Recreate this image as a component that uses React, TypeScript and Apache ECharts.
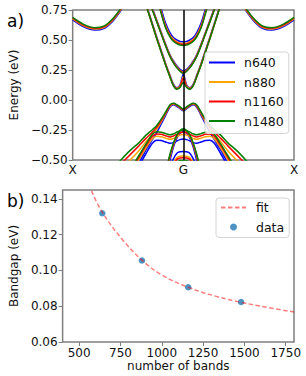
import React, { useEffect, useRef } from 'react';
import * as echarts from 'echarts';

// ---------- panel a) band structure ----------
// distance from G along the path (k = 0.5 -/+ d), mirrored on both sides
const dGrid = [0, 0.015, 0.03, 0.045, 0.06, 0.08, 0.1, 0.12, 0.14, 0.17, 0.2, 0.24, 0.28, 0.32, 0.36, 0.4, 0.45, 0.5];
const kTickValues = [0, 0.5, 1];
const kTickLabels = ['X', 'G', 'X'];
const seriesNames = ['n640', 'n880', 'n1160', 'n1480'];
const seriesColors = ['#0000ff', '#ffa500', '#ff0000', '#008000'];

const N = null;
// upper band near X
const hiX_n640 = [N, N, N, N, N, N, N, N, N, N, N, N, 0.752, 0.655, 0.595, 0.583, 0.61, 0.668];
const hiX_n880 = [N, N, N, N, N, N, N, N, N, N, N, N, 0.758, 0.663, 0.603, 0.591, 0.618, 0.676];
const hiX_n1160 = [N, N, N, N, N, N, N, N, N, N, N, N, 0.764, 0.669, 0.609, 0.597, 0.624, 0.682];
const hiX_n1480 = [N, N, N, N, N, N, N, N, N, N, N, N, 0.77, 0.675, 0.615, 0.603, 0.63, 0.688];
// lowest conduction band (W shape)
const cbW_n640 = [0.215, 0.125, 0.103, 0.133, 0.203, 0.303, 0.413, 0.523, 0.638, 0.81, N, N, N, N, N, N, N, N];
const cbW_n880 = [0.195, 0.115, 0.097, 0.127, 0.197, 0.297, 0.407, 0.517, 0.632, 0.805, N, N, N, N, N, N, N, N];
const cbW_n1160 = [0.18, 0.11, 0.093, 0.123, 0.193, 0.293, 0.403, 0.513, 0.628, 0.8, N, N, N, N, N, N, N, N];
const cbW_n1480 = [0.145, 0.105, 0.09, 0.12, 0.19, 0.29, 0.4, 0.51, 0.625, 0.8, N, N, N, N, N, N, N, N];
// second conduction band (V shape)
const cbV_n640 = [0.24, 0.256, 0.285, 0.325, 0.375, 0.465, 0.565, 0.665, 0.765, 0.91, N, N, N, N, N, N, N, N];
const cbV_n880 = [0.23, 0.248, 0.278, 0.318, 0.368, 0.458, 0.558, 0.658, 0.758, 0.9, N, N, N, N, N, N, N, N];
const cbV_n1160 = [0.225, 0.244, 0.274, 0.314, 0.364, 0.454, 0.554, 0.654, 0.754, 0.9, N, N, N, N, N, N, N, N];
const cbV_n1480 = [0.22, 0.24, 0.27, 0.31, 0.36, 0.45, 0.55, 0.65, 0.75, 0.9, N, N, N, N, N, N, N, N];
// third conduction band (U shape)
const cbU_n640 = [0.485, 0.488, 0.5, 0.52, 0.56, 0.64, 0.76, 0.9, N, N, N, N, N, N, N, N, N, N];
const cbU_n880 = [0.471, 0.474, 0.486, 0.506, 0.541, 0.618, 0.738, 0.878, N, N, N, N, N, N, N, N, N, N];
const cbU_n1160 = [0.463, 0.466, 0.478, 0.498, 0.533, 0.608, 0.728, 0.868, N, N, N, N, N, N, N, N, N, N];
const cbU_n1480 = [0.455, 0.458, 0.47, 0.49, 0.525, 0.6, 0.72, 0.86, N, N, N, N, N, N, N, N, N, N];
// top valence band (M shape)
const vbM_n640 = [-0.09, -0.072, -0.052, -0.04, -0.058, -0.128, -0.2, -0.27, -0.33, -0.42, -0.52, -0.62, N, N, N, N, N, N];
const vbM_n880 = [-0.083, -0.065, -0.045, -0.033, -0.05, -0.115, -0.182, -0.243, -0.29, -0.35, -0.42, -0.5, -0.58, N, N, N, N, N];
const vbM_n1160 = [-0.08, -0.062, -0.042, -0.03, -0.045, -0.108, -0.172, -0.228, -0.268, -0.322, -0.38, -0.455, -0.53, N, N, N, N, N];
const vbM_n1480 = [-0.075, -0.058, -0.038, -0.027, -0.04, -0.1, -0.16, -0.212, -0.248, -0.295, -0.355, -0.42, -0.495, -0.575, N, N, N, N];
// second valence band (wavy)
const vbS_n640 = [-0.325, -0.33, -0.342, -0.355, -0.36, -0.35, -0.338, -0.335, -0.36, -0.45, -0.55, -0.67, N, N, N, N, N, N];
const vbS_n880 = [-0.288, -0.293, -0.306, -0.32, -0.328, -0.318, -0.306, -0.303, -0.323, -0.405, -0.495, -0.62, N, N, N, N, N, N];
const vbS_n1160 = [-0.268, -0.273, -0.286, -0.3, -0.308, -0.298, -0.286, -0.283, -0.303, -0.385, -0.475, -0.6, N, N, N, N, N, N];
const vbS_n1480 = [-0.25, -0.255, -0.268, -0.282, -0.29, -0.28, -0.268, -0.265, -0.285, -0.37, -0.46, -0.58, N, N, N, N, N, N];
// cap-shaped band at G
const vbC_n640 = [-0.262, -0.277, -0.32, -0.395, -0.5, -0.65, N, N, N, N, N, N, N, N, N, N, N, N];
const vbC_n880 = [-0.25, -0.265, -0.306, -0.375, -0.47, -0.62, N, N, N, N, N, N, N, N, N, N, N, N];
const vbC_n1160 = [-0.245, -0.26, -0.3, -0.368, -0.46, -0.61, N, N, N, N, N, N, N, N, N, N, N, N];
const vbC_n1480 = [-0.24, -0.255, -0.295, -0.36, -0.45, -0.6, N, N, N, N, N, N, N, N, N, N, N, N];
// deep flat band at G
const vbD_n640 = [-0.43, -0.432, -0.445, -0.49, -0.56, -0.7, N, N, N, N, N, N, N, N, N, N, N, N];
const vbD_n880 = [-0.466, -0.468, -0.481, -0.525, -0.6, N, N, N, N, N, N, N, N, N, N, N, N, N];
const vbD_n1160 = [-0.482, -0.484, -0.497, -0.54, -0.6, N, N, N, N, N, N, N, N, N, N, N, N, N];
const vbD_n1480 = [-0.505, -0.507, -0.52, -0.56, N, N, N, N, N, N, N, N, N, N, N, N, N, N];

const bandsBySeries = [
  [hiX_n640, cbW_n640, cbV_n640, cbU_n640, vbM_n640, vbS_n640, vbC_n640, vbD_n640],
  [hiX_n880, cbW_n880, cbV_n880, cbU_n880, vbM_n880, vbS_n880, vbC_n880, vbD_n880],
  [hiX_n1160, cbW_n1160, cbV_n1160, cbU_n1160, vbM_n1160, vbS_n1160, vbC_n1160, vbD_n1160],
  [hiX_n1480, cbW_n1480, cbV_n1480, cbU_n1480, vbM_n1480, vbS_n1480, vbC_n1480, vbD_n1480],
];

// ---------- panel b) bandgap vs number of bands ----------
const bandsCount = [640, 880, 1160, 1480];
const bandgap = [0.132, 0.1056, 0.0906, 0.0824];
const fitX = [575, 640, 760, 880, 1000, 1160, 1330, 1480, 1640, 1800];
const fitY = [0.1445, 0.1325, 0.1175, 0.1058, 0.0975, 0.0906, 0.0855, 0.0822, 0.0793, 0.0768];
const xTicksB = [500, 750, 1000, 1250, 1500, 1750];
const yTicksB = [0.06, 0.08, 0.1, 0.12, 0.14];

const FONT = 'DejaVu Sans';
const SPINE = '#7f7f7f';
const TEXT = '#111';

function mirror(vals: (number | null)[]) {
  const out: [number, number | null][] = [];
  for (let j = dGrid.length - 1; j >= 0; j--) out.push([0.5 - dGrid[j], vals[j]]);
  for (let j = 1; j < dGrid.length; j++) out.push([0.5 + dGrid[j], vals[j]]);
  return out;
}

export default function App() {
  const ref = useRef<HTMLDivElement>(null);
  useEffect(() => {
    if (!ref.current) return;
    const chart = echarts.init(ref.current, undefined, { renderer: 'svg' });

    const bandSeries: any[] = [];
    bandsBySeries.forEach((bands, i) => {
      bands.forEach((b) => {
        bandSeries.push({
          type: 'line',
          name: seriesNames[i],
          xAxisIndex: 0,
          yAxisIndex: 0,
          data: mirror(b),
          symbol: 'none',
          showSymbol: false,
          smooth: 0.3,
          connectNulls: false,
          clip: true,
          silent: true,
          lineStyle: { color: seriesColors[i], width: 1.5 },
          itemStyle: { color: seriesColors[i] },
        });
      });
    });

    const axisText = { fontFamily: FONT, fontSize: 12, color: TEXT };
    const legendText = { fontFamily: FONT, fontSize: 12.5, color: TEXT };

    const option: any = {
      animation: false,
      textStyle: { fontFamily: FONT },
      grid: [
        { left: 61, top: 10, width: 233, height: 150, show: true, borderColor: SPINE, borderWidth: 1.5, backgroundColor: 'transparent' },
        { left: 61, top: 190, width: 233, height: 152, show: true, borderColor: SPINE, borderWidth: 1.5, backgroundColor: 'transparent' },
      ],
      xAxis: [
        {
          type: 'value', gridIndex: 0, min: 0, max: 1,
          axisLine: { show: false },
          axisTick: { show: false },
          splitLine: { show: false },
          axisLabel: {
            ...axisText, margin: 4, customValues: kTickValues, showMinLabel: true, showMaxLabel: true,
            formatter: (v: number) => kTickLabels[kTickValues.indexOf(v)] ?? '',
          },
        },
        {
          type: 'value', gridIndex: 1, min: 400, max: 1800,
          axisLine: { show: false },
          axisTick: { show: true, length: 4, customValues: xTicksB, lineStyle: { color: SPINE, width: 1 } },
          splitLine: { show: false },
          axisLabel: { ...axisText, margin: 5, customValues: xTicksB, formatter: (v: number) => String(v) },
          name: 'number of bands', nameLocation: 'middle', nameGap: 14,
          nameTextStyle: { ...axisText, verticalAlign: 'top' },
        },
      ],
      yAxis: [
        {
          type: 'value', gridIndex: 0, min: -0.5, max: 0.75, interval: 0.25,
          axisLine: { show: false },
          axisTick: { show: true, length: 4, lineStyle: { color: SPINE, width: 1 } },
          splitLine: { show: false },
          axisLabel: {
            ...axisText, margin: 5,
            formatter: (v: number) => (v < 0 ? '\u2212' : '') + Math.abs(v).toFixed(2),
          },
          name: 'Energy (eV)', nameLocation: 'middle', nameGap: 43, nameRotate: 90,
          nameTextStyle: axisText,
        },
        {
          type: 'value', gridIndex: 1, min: 0.06, max: 0.145,
          axisLine: { show: false },
          axisTick: { show: true, length: 4, customValues: yTicksB, lineStyle: { color: SPINE, width: 1 } },
          splitLine: { show: false },
          axisLabel: { ...axisText, margin: 5, customValues: yTicksB, formatter: (v: number) => v.toFixed(2) },
          name: 'Bandgap (eV)', nameLocation: 'middle', nameGap: 34, nameRotate: 90,
          nameTextStyle: axisText,
        },
      ],
      legend: [
        {
          data: seriesNames, orient: 'vertical', left: 205, top: 52,
          itemWidth: 26, itemHeight: 12, itemGap: 6.5, padding: [4, 5, 6, 3],
          backgroundColor: 'rgba(255,255,255,0.85)', borderColor: '#d4d4d4', borderWidth: 1, borderRadius: 3,
          itemStyle: { opacity: 0 },
          textStyle: { ...legendText, padding: [0, 0, 0, 4] },
          selectedMode: false,
        },
        {
          data: [{ name: 'fit', itemStyle: { opacity: 0 } }, { name: 'data' }],
          orient: 'vertical', left: 216, top: 198,
          itemWidth: 25, itemHeight: 7, itemGap: 6.5, padding: [3, 5, 4, 4],
          backgroundColor: 'rgba(255,255,255,0.85)', borderColor: '#d4d4d4', borderWidth: 1, borderRadius: 3,
          textStyle: { ...legendText, padding: [0, 0, 0, 5] },
          selectedMode: false,
        },
      ],
      graphic: [
        { type: 'text', left: 7, top: 12, style: { text: 'a)', fontFamily: FONT, fontSize: 17, fill: '#000' } },
        { type: 'text', left: 7, top: 192, style: { text: 'b)', fontFamily: FONT, fontSize: 17, fill: '#000' } },
      ],
      series: [
        ...bandSeries,
        {
          type: 'line', xAxisIndex: 0, yAxisIndex: 0, data: [], silent: true,
          markLine: {
            silent: true, symbol: ['none', 'none'], label: { show: false },
            lineStyle: { color: '#000', width: 1.5, type: 'solid' },
            data: [{ xAxis: 0.5 }],
          },
        },
        {
          type: 'line', name: 'fit', xAxisIndex: 1, yAxisIndex: 1,
          data: fitX.map((x, i) => [x, fitY[i]]),
          symbol: 'none', showSymbol: false, smooth: 0.4, clip: true, silent: true,
          lineStyle: { color: 'rgba(255,0,0,0.5)', width: 1.5, type: [4.5, 2.5] },
          itemStyle: { color: 'rgba(255,0,0,0.5)' },
        },
        {
          type: 'scatter', name: 'data', xAxisIndex: 1, yAxisIndex: 1,
          data: bandsCount.map((x, i) => [x, bandgap[i]]),
          symbol: 'circle', symbolSize: 6.5, silent: true,
          itemStyle: { color: '#1f77b4' },
        },
      ],
    };
    chart.setOption(option);
    return () => chart.dispose();
  }, []);
  return (
    <div
      ref={ref}
      style={{ position: 'absolute', left: 0, top: 0, width: 306, height: 376, background: '#fff' }}
    />
  );
}
